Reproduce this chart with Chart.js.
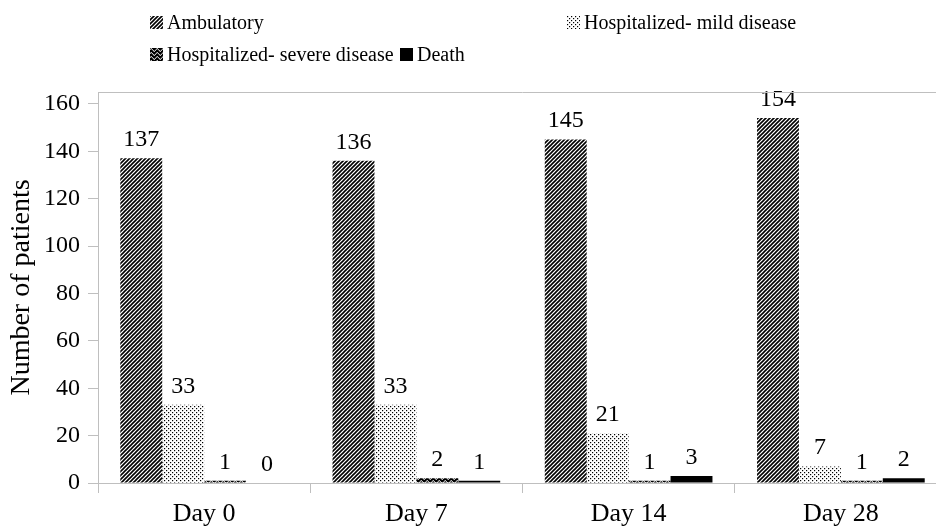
<!DOCTYPE html>
<html>
<head>
<meta charset="utf-8">
<script src="https://cdn.jsdelivr.net/npm/chart.js@4.4.1/dist/chart.umd.min.js"></script>
<style>
    html, body { margin: 0; padding: 0; background: #fff; overflow: hidden; }
    #wrap { position: relative; width: 936px; height: 529px; overflow: hidden; }
    #chart { position: absolute; left: 0; top: 0; }
    .legend-item { position: absolute; display: flex; align-items: center; font-family: 'Liberation Serif', 'Times New Roman', serif; font-size: 20px; color: #000; line-height: 26px; white-space: nowrap; }
    .legend-item canvas { margin-right: 4px; }
</style>
</head>
<body>
<div id="wrap">
    <canvas id="chart" width="950" height="529"></canvas>
    <div id="legend"></div>
</div>
<script>
// Chart data
const categories = ['Day 0', 'Day 7', 'Day 14', 'Day 28'];
const seriesNames = ['Ambulatory', 'Hospitalized- mild disease', 'Hospitalized- severe disease', 'Death'];
const ambulatory = [137, 136, 145, 154];
const mildDisease = [33, 33, 21, 7];
const severeDisease = [1, 2, 1, 1];
const deaths = [0, 1, 3, 2];
const yTickValues = [0, 20, 40, 60, 80, 100, 120, 140, 160];
const yMin = 0;
const yMax = 165;

const FONT = "'Liberation Serif', 'Times New Roman', serif";
const AXIS_GRAY = '#bfbfbf';

// Build the fill patterns (hatching) used by Excel-style black & white charts
function makePattern(kind) {
    const c = document.createElement('canvas');
    const g = c.getContext('2d');
    if (kind === 'diag') {
        c.width = 4; c.height = 4;
        g.fillStyle = '#fff'; g.fillRect(0, 0, 4, 4);
        g.strokeStyle = '#000'; g.lineWidth = 1.6;
        g.beginPath();
        g.moveTo(-1, 5); g.lineTo(5, -1);
        g.moveTo(-3, 3); g.lineTo(3, -3);
        g.moveTo(1, 7); g.lineTo(7, 1);
        g.stroke();
    } else if (kind === 'dots') {
        c.width = 4; c.height = 4;
        g.fillStyle = '#fff'; g.fillRect(0, 0, 4, 4);
        g.fillStyle = '#000';
        g.fillRect(0, 0, 1.2, 1.2);
        g.fillRect(2, 2, 1.2, 1.2);
    } else if (kind === 'wave') {
        c.width = 6; c.height = 4;
        g.fillStyle = '#000'; g.fillRect(0, 0, 6, 4);
        g.strokeStyle = '#fff'; g.lineWidth = 1;
        g.beginPath();
        g.moveTo(0, 1.5); g.lineTo(1.5, 0.5); g.lineTo(3, 2.5); g.lineTo(4.5, 3.5); g.lineTo(6, 1.5);
        g.stroke();
    } else {
        c.width = 2; c.height = 2;
        g.fillStyle = '#000'; g.fillRect(0, 0, 2, 2);
    }
    return c;
}

const patternKinds = ['diag', 'dots', 'wave', 'solid'];
const ctx = document.getElementById('chart').getContext('2d');
const fills = patternKinds.map(k => ctx.createPattern(makePattern(k), 'repeat'));

// Legend drawn as HTML so it can sit in two rows like the original
const legendPos = [
    { left: 150, top: 9 },
    { left: 567, top: 9 },
    { left: 150, top: 41 },
    { left: 400, top: 41 }
];
const legendEl = document.getElementById('legend');
seriesNames.forEach((name, i) => {
    const item = document.createElement('div');
    item.className = 'legend-item';
    item.style.left = legendPos[i].left + 'px';
    item.style.top = legendPos[i].top + 'px';
    const sw = document.createElement('canvas');
    sw.width = 13; sw.height = 13;
    const sctx = sw.getContext('2d');
    sctx.fillStyle = sctx.createPattern(makePattern(patternKinds[i]), 'repeat');
    sctx.fillRect(0, 0, 13, 13);
    item.appendChild(sw);
    item.appendChild(document.createTextNode(name));
    legendEl.appendChild(item);
});

// Value labels above every bar
const valueLabels = {
    id: 'valueLabels',
    afterDatasetsDraw(chart) {
        const c = chart.ctx;
        c.save();
        c.font = '24px ' + FONT;
        c.fillStyle = '#000';
        c.textAlign = 'center';
        c.textBaseline = 'alphabetic';
        chart.data.datasets.forEach((ds, i) => {
            chart.getDatasetMeta(i).data.forEach((bar, j) => {
                c.fillText(String(ds.data[j]), bar.x, bar.y - 12);
            });
        });
        c.restore();
    }
};

// Thin border on top of the plot area
const topBorder = {
    id: 'topBorder',
    afterDraw(chart) {
        const a = chart.chartArea;
        const c = chart.ctx;
        c.save();
        c.strokeStyle = AXIS_GRAY;
        c.lineWidth = 1;
        c.beginPath();
        c.moveTo(a.left, Math.round(a.top) + 0.5);
        c.lineTo(a.right, Math.round(a.top) + 0.5);
        c.stroke();
        c.restore();
    }
};

new Chart(ctx, {
    type: 'bar',
    data: {
        labels: categories,
        datasets: [ambulatory, mildDisease, severeDisease, deaths].map((values, i) => ({
            label: seriesNames[i],
            data: values,
            backgroundColor: fills[i],
            borderWidth: 0,
            categoryPercentage: 0.79,
            barPercentage: 1.0
        }))
    },
    options: {
        responsive: false,
        animation: false,
        devicePixelRatio: 1,
        layout: { padding: { top: 92, right: 3, left: 0, bottom: 0 } },
        plugins: {
            legend: { display: false },
            tooltip: { enabled: false }
        },
        scales: {
            x: {
                grid: {
                    offset: true,
                    drawOnChartArea: false,
                    color: AXIS_GRAY,
                    tickLength: 10
                },
                border: { color: AXIS_GRAY },
                ticks: {
                    color: '#000',
                    font: { family: FONT, size: 26 },
                    padding: 6
                },
                afterFit(scale) { scale.height = 46; }
            },
            y: {
                min: yMin,
                max: yMax,
                grid: {
                    drawOnChartArea: false,
                    color: AXIS_GRAY,
                    tickLength: 10
                },
                border: { color: AXIS_GRAY },
                ticks: {
                    color: '#000',
                    font: { family: FONT, size: 24 },
                    padding: 8
                },
                afterBuildTicks(scale) {
                    scale.ticks = yTickValues.map(v => ({ value: v }));
                },
                title: {
                    display: true,
                    text: 'Number of patients',
                    color: '#000',
                    font: { family: FONT, size: 28 },
                    padding: { top: 5, bottom: 0 }
                },
                afterFit(scale) { scale.width = 98; }
            }
        }
    },
    plugins: [valueLabels, topBorder]
});
</script>
</body>
</html>
